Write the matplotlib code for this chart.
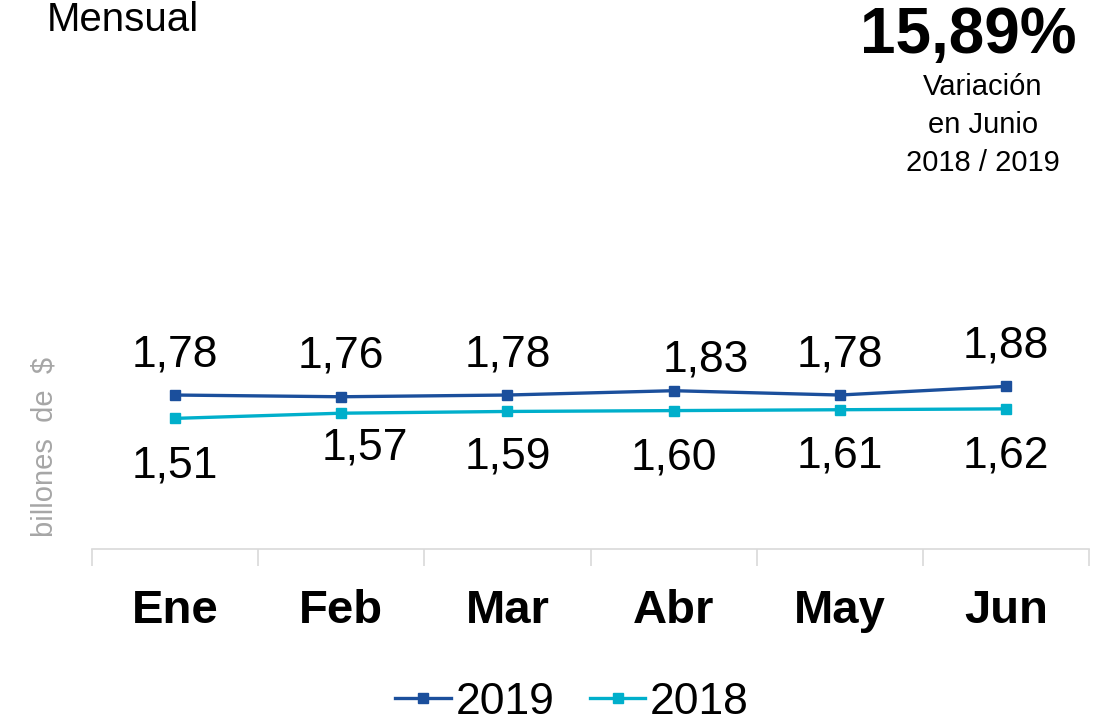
import matplotlib
matplotlib.use("Agg")
import matplotlib.pyplot as plt
from matplotlib.ticker import FixedLocator

months = ["Ene", "Feb", "Mar", "Abr", "May", "Jun"]
values_2019 = [1.78, 1.76, 1.78, 1.83, 1.78, 1.88]
values_2018 = [1.51, 1.57, 1.59, 1.60, 1.61, 1.62]
labels_2019 = ["1,78", "1,76", "1,78", "1,83", "1,78", "1,88"]
labels_2018 = ["1,51", "1,57", "1,59", "1,60", "1,61", "1,62"]
variation = "15,89%"

# label offsets in points (dx, dy), tuned to the reference layout
off_2019 = [(0, 29), (0, 29), (0, 29), (23, 22), (0, 29), (0, 29)]
off_2018 = [(0, -34), (17, -25), (0, -33), (0, -34), (0, -33), (0, -34)]

C2019 = "#1B4F9C"
C2018 = "#00AFCB"
GRID = "#D9D9D9"

plt.rcParams["font.family"] = ["Liberation Sans", "DejaVu Sans"]

fig = plt.figure(figsize=(11.07, 7.24), dpi=100)
W, H = 1107, 724
ax = fig.add_axes([92 / W, (H - 549) / H, (1089 - 92) / W, (549 - 203) / H])

x = list(range(len(months)))
ax.plot(x, values_2019, color=C2019, lw=2.4, marker="s", ms=6.5, label="2019")
ax.plot(x, values_2018, color=C2018, lw=2.4, marker="s", ms=6.5, label="2018")

for xi, v, t, (dx, dy) in zip(x, values_2019, labels_2019, off_2019):
    ax.annotate(t, (xi, v), xytext=(dx, dy), textcoords="offset points",
                ha="center", va="center", fontsize=32, color="black")
for xi, v, t, (dx, dy) in zip(x, values_2018, labels_2018, off_2018):
    ax.annotate(t, (xi, v), xytext=(dx, dy), textcoords="offset points",
                ha="center", va="center", fontsize=32, color="black")

ax.set_xlim(-0.5, len(months) - 0.5)
ax.set_ylim(0, 4)
ax.set_xticks(x)
ax.set_xticklabels(months, fontsize=34, fontweight="bold")
ax.xaxis.set_minor_locator(FixedLocator([i - 0.5 for i in range(len(months) + 1)]))
ax.tick_params(axis="x", which="major", length=0, pad=29)
ax.tick_params(axis="x", which="minor", length=12, color=GRID, width=1.2)
ax.set_yticks([])
for s in ["top", "right", "left"]:
    ax.spines[s].set_visible(False)
ax.spines["bottom"].set_color(GRID)
ax.spines["bottom"].set_linewidth(1.2)

fig.text(45 / W, 1 - 447 / H, "billones  de  $", rotation=90, ha="center", va="center",
         fontsize=21, color="#A6A6A6")
fig.text(47 / W, 1 - 1 / H, "Mensual", ha="left", va="top", fontsize=29)
fig.text(968 / W, 1 - 36 / H, variation, ha="center", va="center", fontsize=46, fontweight="bold")
fig.text(983 / W, 1 - 125 / H, "Variación\nen Junio\n2018 / 2019", ha="center", va="center",
         fontsize=21, linespacing=1.45)

fig.legend(loc="center", bbox_to_anchor=(572 / W, 1 - 702 / H), ncol=2, frameon=False,
           fontsize=32, handlelength=1.25, handletextpad=0.1, columnspacing=0.8,
           borderaxespad=0)

fig.savefig("out.png", dpi=100)
